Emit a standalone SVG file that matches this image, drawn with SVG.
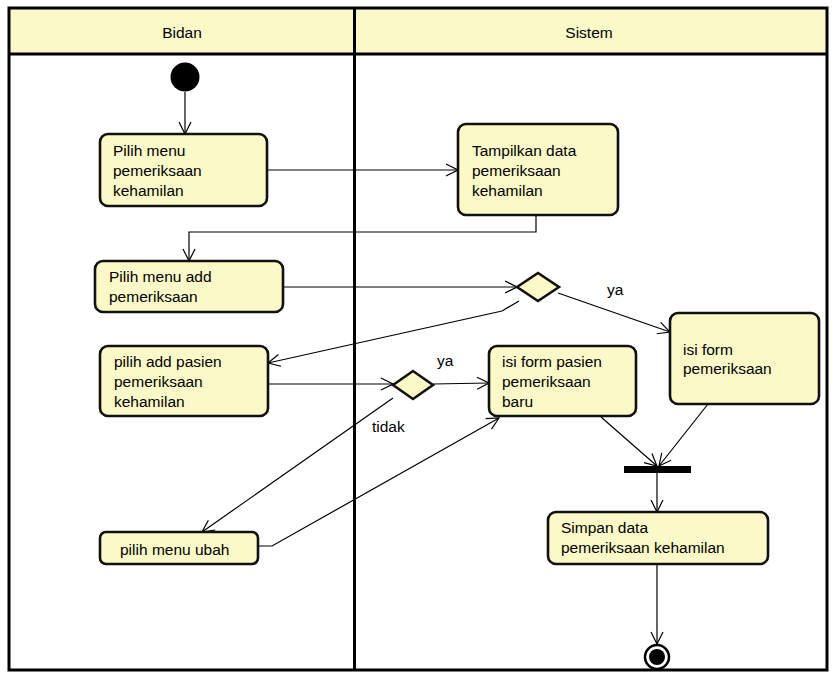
<svg xmlns="http://www.w3.org/2000/svg" width="840" height="690" viewBox="0 0 840 690">
<style>
text{font-family:"Liberation Sans",Arial,sans-serif;font-size:15.5px;fill:#000}
.node{fill:#FCF9C9;stroke:#111;stroke-width:2.6}
.con{fill:none;stroke:#000;stroke-width:1.2}
.lane{fill:none;stroke:#000;stroke-width:3}
</style>
<defs>
<marker id="arr" viewBox="0 0 14 14" refX="13" refY="7" markerWidth="14" markerHeight="14" orient="auto" markerUnits="userSpaceOnUse">
<path d="M1,1 L13,7 L1,13" fill="none" stroke="#000" stroke-width="1.2"/>
</marker>
</defs>
<rect width="840" height="690" fill="#fff"/>
<g id="swimlanes">
<rect x="9" y="8" width="818" height="46" fill="#FCF9C9"/>
<rect class="lane" x="9" y="8" width="818" height="662"/>
<line class="lane" x1="9" y1="54" x2="827" y2="54"/>
<line class="lane" x1="354.5" y1="8" x2="354.5" y2="670"/>
<text x="182" y="38" text-anchor="middle">Bidan</text>
<text x="589" y="38" text-anchor="middle">Sistem</text>
</g>
<g id="connectors">
<path class="con" d="M185,92 V134" marker-end="url(#arr)"/>
<path class="con" d="M267,170 H458" marker-end="url(#arr)"/>
<path class="con" d="M536,215 V232 H189 V261" marker-end="url(#arr)"/>
<path class="con" d="M283,287 H517" marker-end="url(#arr)"/>
<path class="con" d="M558,293 L670,332" marker-end="url(#arr)"/>
<path class="con" d="M519,301 L502,311 L268,363" marker-end="url(#arr)"/>
<path class="con" d="M268,384 H393" marker-end="url(#arr)"/>
<path class="con" d="M433,384 L489,383" marker-end="url(#arr)"/>
<path class="con" d="M393,398 L202,532" marker-end="url(#arr)"/>
<path class="con" d="M258,546 H272 L499,418" marker-end="url(#arr)"/>
<path class="con" d="M601,417 L657,466" marker-end="url(#arr)"/>
<path class="con" d="M708,404 L659,466" marker-end="url(#arr)"/>
<path class="con" d="M657,473 V512" marker-end="url(#arr)"/>
<path class="con" d="M657,564 V644" marker-end="url(#arr)"/>
<text x="607" y="295">ya</text>
<text x="437" y="366">ya</text>
<text x="372" y="432">tidak</text>
</g>
<g id="start"><circle cx="185" cy="77" r="14.5" fill="#000"/></g>
<g id="n1">
<rect class="node" x="100" y="134" width="167" height="72" rx="8"/>
<text x="113" y="156">Pilih menu</text>
<text x="113" y="176">pemeriksaan</text>
<text x="113" y="196">kehamilan</text>
</g>
<g id="n2">
<rect class="node" x="458" y="124" width="160" height="91" rx="8"/>
<text x="472" y="156">Tampilkan data</text>
<text x="472" y="176">pemeriksaan</text>
<text x="472" y="196">kehamilan</text>
</g>
<g id="n3">
<rect class="node" x="95" y="261" width="188" height="51" rx="8"/>
<text x="109" y="282">Pilih menu add</text>
<text x="109" y="302">pemeriksaan</text>
</g>
<g id="d1"><path class="node" d="M517,287 L538,273 L559,287 L538,301 Z"/></g>
<g id="n4">
<rect class="node" x="100" y="346" width="168" height="70" rx="8"/>
<text x="114" y="367">pilih add pasien</text>
<text x="114" y="387">pemeriksaan</text>
<text x="114" y="407">kehamilan</text>
</g>
<g id="isiform">
<rect class="node" x="670" y="313" width="149" height="91" rx="8"/>
<text x="683" y="355">isi form</text>
<text x="683" y="374">pemeriksaan</text>
</g>
<g id="d2"><path class="node" d="M393,385 L413,371 L433,385 L413,399 Z"/></g>
<g id="n5">
<rect class="node" x="489" y="346" width="147" height="70" rx="8"/>
<text x="502" y="367">isi form pasien</text>
<text x="502" y="387">pemeriksaan</text>
<text x="502" y="407">baru</text>
</g>
<g id="ubah">
<rect class="node" x="100" y="532" width="158" height="32" rx="6"/>
<text x="120" y="555">pilih menu ubah</text>
</g>
<g id="fork"><rect x="624" y="466" width="67" height="7" fill="#000"/></g>
<g id="simpan">
<rect class="node" x="548" y="512" width="220" height="52" rx="8"/>
<text x="561" y="533">Simpan data</text>
<text x="561" y="553">pemeriksaan kehamilan</text>
</g>
<g id="final">
<circle cx="657" cy="657" r="12" fill="#fff" stroke="#000" stroke-width="2.5"/>
<circle cx="657" cy="657" r="8" fill="#000"/>
</g>
</svg>
